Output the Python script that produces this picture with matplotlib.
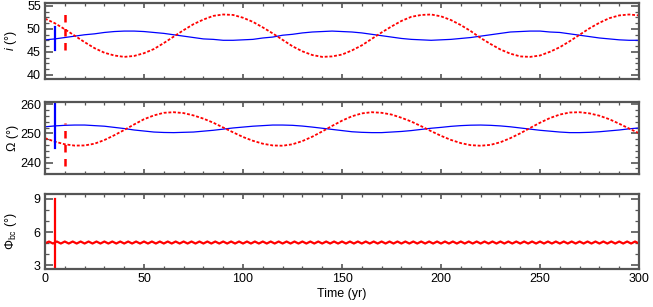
import matplotlib.pyplot as plt
from matplotlib.ticker import MultipleLocator

plt.rcParams["font.family"] = ["Liberation Sans", "DejaVu Sans"]
plt.rcParams["mathtext.fontset"] = "custom"
plt.rcParams["mathtext.rm"] = "Liberation Sans"
plt.rcParams["mathtext.it"] = "Liberation Sans:italic"

# Time grid (yr) for the slow curves
years = list(range(0, 301, 5))

# Inclination (deg): blue solid and red dashed
incl_blue = [47.6, 47.8, 48.1, 48.4, 48.7, 48.9, 49.2, 49.4, 49.5, 49.5, 49.4, 49.2, 49.0,
             48.7, 48.4, 48.1, 47.8, 47.7, 47.5, 47.5, 47.6, 47.7, 48.0, 48.2, 48.6, 48.8,
             49.1, 49.3, 49.4, 49.5, 49.4, 49.3, 49.1, 48.8, 48.5, 48.2, 47.9, 47.7, 47.6,
             47.5, 47.6, 47.7, 47.9, 48.1, 48.4, 48.7, 49.0, 49.3, 49.4, 49.5, 49.5, 49.3,
             49.2, 48.9, 48.6, 48.3, 48.0, 47.8, 47.6, 47.5, 47.5]
incl_red = [52.2, 51.2, 49.9, 48.5, 47.1, 45.8, 44.8, 44.2, 43.9, 44.1, 44.7, 45.6, 46.9,
            48.3, 49.7, 51.0, 52.0, 52.8, 53.1, 53.0, 52.4, 51.5, 50.3, 49.0, 47.6, 46.2,
            45.1, 44.3, 43.9, 44.0, 44.4, 45.3, 46.4, 47.8, 49.2, 50.5, 51.7, 52.6, 53.0,
            53.1, 52.7, 51.9, 50.8, 49.5, 48.0, 46.7, 45.5, 44.6, 44.0, 43.9, 44.2, 45.0,
            46.0, 47.3, 48.7, 50.1, 51.3, 52.3, 52.9, 53.1, 52.9]

# Node longitude (deg)
node_blue = [252.3, 252.6, 252.8, 252.9, 252.9, 252.7, 252.5, 252.1, 251.7, 251.2, 250.85,
             250.5, 250.35, 250.3, 250.4, 250.5, 250.8, 251.1, 251.5, 251.9, 252.2, 252.5,
             252.7, 252.9, 252.9, 252.8, 252.55, 252.2, 251.8, 251.4, 251.0, 250.6, 250.4,
             250.3, 250.3, 250.5, 250.7, 251.0, 251.4, 251.8, 252.1, 252.45, 252.7, 252.85,
             252.9, 252.8, 252.6, 252.3, 251.9, 251.5, 251.1, 250.8, 250.5, 250.3, 250.3,
             250.4, 250.6, 250.9, 251.2, 251.6, 251.9]
node_red = [248.4, 247.2, 246.3, 245.85, 245.9, 246.5, 247.75, 249.4, 251.2, 253.1, 254.9,
            256.2, 257.1, 257.3, 257.0, 256.2, 255.1, 253.7, 252.05, 250.4, 248.8, 247.5,
            246.5, 245.9, 245.8, 246.3, 247.4, 248.9, 250.7, 252.6, 254.4, 255.9, 256.9,
            257.3, 257.1, 256.5, 255.4, 254.1, 252.5, 250.8, 249.2, 247.8, 246.7, 246.0,
            245.8, 246.1, 247.0, 248.4, 250.05, 251.9, 253.7, 255.3, 256.5, 257.2, 257.3,
            256.9, 256.1, 254.9, 253.35, 251.7, 250.1]

# Phi_bc (deg), sampled every 2 yr
phi_years = list(range(0, 301, 2))
phi_bc = [4.97, 5.14, 4.96, 5.14, 4.96, 5.14, 4.96, 5.14, 4.96, 5.14, 4.96, 5.14, 4.96, 5.14,
          4.96, 5.14, 4.96, 5.14, 4.96, 5.14, 4.96, 5.14, 4.96, 5.14, 4.96, 5.14, 4.96, 5.14,
          4.96, 5.14, 4.96, 5.14, 4.96, 5.14, 4.96, 5.14, 4.96, 5.14, 4.96, 5.14, 4.96, 5.14,
          4.96, 5.14, 4.96, 5.14, 4.96, 5.14, 4.96, 5.14, 4.96, 5.14, 4.96, 5.14, 4.96, 5.14,
          4.96, 5.14, 4.96, 5.14, 4.96, 5.14, 4.96, 5.14, 4.96, 5.14, 4.96, 5.14, 4.96, 5.14,
          4.96, 5.14, 4.96, 5.14, 4.96, 5.14, 4.96, 5.14, 4.96, 5.14, 4.96, 5.14, 4.96, 5.14,
          4.96, 5.14, 4.96, 5.14, 4.96, 5.14, 4.96, 5.14, 4.96, 5.14, 4.96, 5.14, 4.96, 5.14,
          4.96, 5.14, 4.96, 5.14, 4.96, 5.14, 4.96, 5.14, 4.96, 5.14, 4.96, 5.14, 4.96, 5.14,
          4.96, 5.14, 4.96, 5.14, 4.96, 5.14, 4.96, 5.14, 4.96, 5.14, 4.96, 5.14, 4.96, 5.14,
          4.96, 5.14, 4.96, 5.14, 4.96, 5.14, 4.96, 5.14, 4.96, 5.14, 4.96, 5.14, 4.96, 5.14,
          4.96, 5.14, 4.96, 5.14, 4.96, 5.14, 4.96, 5.14, 4.96, 5.14, 4.96]

# Vertical bars near the start: (time, low, high)
incl_bar_blue = (5, 45.4, 50.4)
incl_bar_red = (10, 45.5, 53.8)
node_bar_blue = (5, 244.9, 261.1)
node_bar_red = (10, 239.0, 253.5)
phi_bar_red = (5, 2.8, 9.0)

GRAY = "#555555"
RED_DASH = (0, (1.6, 1.0))
BAR_DASH = (0, (3.0, 2.6))
FS = 9


def style_axis(ax, ylim, major, minor):
    ax.set_xlim(0, 300)
    ax.set_ylim(*ylim)
    ax.xaxis.set_major_locator(MultipleLocator(50))
    ax.xaxis.set_minor_locator(MultipleLocator(10))
    ax.yaxis.set_major_locator(MultipleLocator(major))
    ax.yaxis.set_minor_locator(MultipleLocator(minor))
    for sp in ax.spines.values():
        sp.set_color(GRAY)
        sp.set_linewidth(1.6)
    ax.tick_params(axis="both", which="both", direction="in", top=True, right=True,
                   color=GRAY, labelsize=FS, labelcolor="black", pad=3)
    ax.tick_params(axis="x", which="major", length=3.5, width=1.2)
    ax.tick_params(axis="x", which="minor", length=2.0, width=0.9)
    ax.tick_params(axis="y", which="major", length=6.0, width=1.2)
    ax.tick_params(axis="y", which="minor", length=3.0, width=0.9)


fig = plt.figure(figsize=(6.53, 3.07), dpi=100)
left, width = 0.0689, 0.9097
ax1 = fig.add_axes([left, 0.7427, width, 0.2476])
ax2 = fig.add_axes([left, 0.4332, width, 0.2345])
ax3 = fig.add_axes([left, 0.1238, width, 0.2443])

# Inclination panel
ax1.plot(years, incl_blue, color="blue", lw=0.9)
ax1.plot(years, incl_red, color="red", lw=1.3, ls=RED_DASH)
ax1.plot([incl_bar_blue[0]] * 2, incl_bar_blue[1:], color="blue", lw=1.6)
ax1.plot([incl_bar_red[0]] * 2, incl_bar_red[1:], color="red", lw=1.8, ls=BAR_DASH)
style_axis(ax1, (39.1, 55.6), 5, 1.25)
ax1.tick_params(labelbottom=False)
ax1.set_ylabel("$i$ (°)", fontsize=FS)

# Node panel
ax2.plot(years, node_blue, color="blue", lw=0.9)
ax2.plot(years, node_red, color="red", lw=1.3, ls=RED_DASH)
ax2.plot([node_bar_blue[0]] * 2, node_bar_blue[1:], color="blue", lw=1.6)
ax2.plot([node_bar_red[0]] * 2, node_bar_red[1:], color="red", lw=1.8, ls=BAR_DASH)
style_axis(ax2, (236.1, 260.8), 10, 2)
ax2.tick_params(labelbottom=False)
ax2.set_ylabel("Ω (°)", fontsize=FS)

# Phi_bc panel
ax3.plot(phi_years, phi_bc, color="red", lw=1.6)
ax3.plot([phi_bar_red[0]] * 2, phi_bar_red[1:], color="red", lw=1.6)
style_axis(ax3, (2.65, 9.45), 3, 1)
ax3.set_ylabel(r"$\Phi_{\rm bc}$ (°)", fontsize=FS)
ax3.set_xlabel("Time (yr)", fontsize=FS, labelpad=2)

for ax in (ax1, ax2, ax3):
    ax.yaxis.set_label_coords(-0.044, 0.5)

fig.savefig("out.png", dpi=100)
